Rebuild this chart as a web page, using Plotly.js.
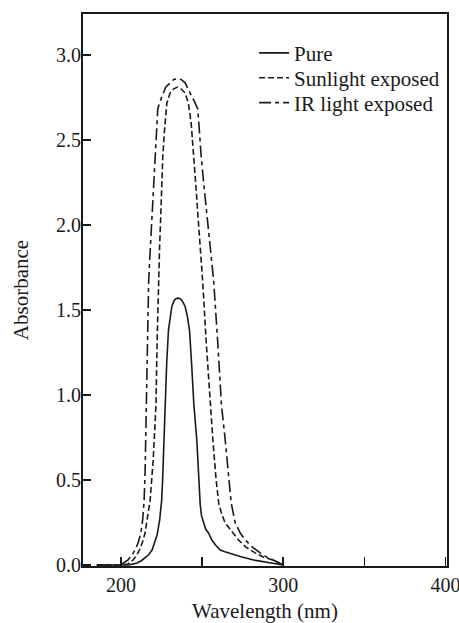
<!DOCTYPE html>
<html>
<head>
<meta charset="utf-8">
<script src="https://cdn.plot.ly/plotly-3.0.1.min.js"></script>
<style>html,body{margin:0;padding:0;background:#fff;}#chart{width:459px;height:623px;}</style>
</head>
<body>
<div id="chart"></div>
<script>
// Pure (solid)
const pureWl = [185, 204.3, 207, 209.9, 212.5, 214.8, 217, 219.1, 220.8, 222.2, 223.8, 225.0, 225.6, 226.2, 227.2, 228.1, 229.2, 230.2, 231.3, 232.7, 234, 235.0, 236.2, 237.6, 239.5, 240.9, 242.2, 243.5, 244.9, 246.7, 247.8, 248.8, 249.6, 250.8, 252.2, 253.9, 256.0, 258.5, 261.1, 264, 267.3, 274, 281.7, 292.0, 300];
const pureAbs = [0, 0, 0.005, 0.012, 0.025, 0.041, 0.06, 0.088, 0.13, 0.176, 0.265, 0.38, 0.5, 0.68, 0.94, 1.18, 1.38, 1.46, 1.52, 1.555, 1.567, 1.569, 1.567, 1.555, 1.52, 1.46, 1.38, 1.18, 0.94, 0.735, 0.50, 0.353, 0.29, 0.247, 0.21, 0.188, 0.147, 0.115, 0.088, 0.078, 0.068, 0.048, 0.029, 0.012, 0];

// Sunlight exposed (short dash)
const sunWl = [185, 199.4, 204.3, 207.4, 209.5, 211.3, 213.2, 214.8, 216.0, 217.9, 219.8, 221.5, 222.2, 223.0, 223.7, 224.4, 225.1, 225.7, 226.8, 228.2, 230.2, 232.5, 234.8, 237, 239.5, 241.5, 243.2, 245, 246.2, 247.5, 248.9, 250.3, 252.5, 254.9, 256.6, 258.6, 260.2, 262, 264.2, 269.1, 272.4, 277, 282.7, 288, 293.8, 300];
const sunAbs = [0, 0, 0.006, 0.03, 0.055, 0.088, 0.135, 0.188, 0.265, 0.38, 0.62, 0.94, 1.31, 1.67, 1.86, 2.04, 2.22, 2.40, 2.56, 2.715, 2.775, 2.80, 2.81, 2.80, 2.775, 2.715, 2.60, 2.40, 2.22, 2.04, 1.86, 1.67, 1.31, 0.94, 0.735, 0.50, 0.365, 0.30, 0.247, 0.188, 0.147, 0.105, 0.071, 0.045, 0.029, 0];

// IR light exposed (long dash-dot)
const irWl = [185, 196.3, 200.6, 204.3, 206.5, 208.6, 210.5, 212.2, 213.3, 214.2, 214.8, 215.3, 215.8, 216.4, 217.0, 218.0, 219.1, 220.1, 221.0, 221.8, 222.6, 223.8, 225.1, 227.5, 230.2, 232.5, 234.6, 237, 239.5, 241.5, 243.6, 245.5, 247.3, 248.3, 249.4, 251.2, 253.1, 255.1, 257.1, 259.6, 261.9, 264.2, 266.0, 267.9, 270.4, 273.5, 276.5, 281, 285.8, 290, 293.8, 300];
const irAbs = [0, 0, 0.006, 0.03, 0.055, 0.088, 0.13, 0.188, 0.265, 0.38, 0.55, 0.8, 1.1, 1.4, 1.67, 1.86, 2.04, 2.22, 2.40, 2.55, 2.68, 2.72, 2.755, 2.81, 2.835, 2.855, 2.86, 2.855, 2.835, 2.80, 2.755, 2.72, 2.68, 2.55, 2.40, 2.22, 2.04, 1.86, 1.67, 1.31, 0.94, 0.735, 0.53, 0.365, 0.247, 0.188, 0.147, 0.105, 0.071, 0.045, 0.029, 0];

const seriesNames = ['Pure', 'Sunlight exposed', 'IR light exposed'];
const xTickVals = [200, 250, 300, 350, 400];
const xTickText = ['200', '', '300', '', '400'];
const yTickVals = [0, 0.5, 1.0, 1.5, 2.0, 2.5, 3.0];

const FONT = 'Liberation Serif, Times New Roman, serif';
const INK = '#1a1a1a';

const traces = [
  {x: pureWl, y: pureAbs, name: seriesNames[0], mode: 'lines', legend: 'legend',
   line: {color: INK, width: 1.6, dash: 'solid', shape: 'linear'}},
  {x: sunWl, y: sunAbs, name: seriesNames[1], mode: 'lines', legend: 'legend2',
   line: {color: INK, width: 1.6, dash: '6px,3px', shape: 'linear'}},
  {x: irWl, y: irAbs, name: seriesNames[2], mode: 'lines', legend: 'legend3',
   line: {color: INK, width: 1.6, dash: '12px,4px,4px,4px', shape: 'linear'}}
];

function legendAt(yTop) {
  return {x: 0.47, y: yTop, xanchor: 'left', yanchor: 'top',
          bgcolor: 'rgba(0,0,0,0)', font: {family: FONT, size: 21, color: INK},
          itemwidth: 30};
}

const layout = {
  width: 459, height: 623,
  margin: {l: 83, r: 12, t: 14, b: 57},
  paper_bgcolor: '#ffffff', plot_bgcolor: '#ffffff',
  font: {family: FONT, size: 20, color: INK},
  showlegend: true,
  legend: legendAt(0.966),
  legend2: legendAt(0.921),
  legend3: legendAt(0.876),
  xaxis: {
    range: [176.5, 401], tickmode: 'array', tickvals: xTickVals, ticktext: xTickText,
    ticks: 'inside', ticklen: 9, tickwidth: 1.5, tickcolor: INK,
    showline: true, linecolor: INK, linewidth: 2, mirror: true,
    showgrid: false, zeroline: false, ticklabeloverflow: 'allow',
    tickfont: {family: FONT, size: 20, color: INK},
    title: {text: 'Wavelength (nm)', font: {family: FONT, size: 21, color: INK}, standoff: 8}
  },
  yaxis: {
    range: [-0.006, 3.24], tickmode: 'array', tickvals: yTickVals, tickformat: '.1f',
    ticks: 'inside', ticklen: 8, tickwidth: 1.5, tickcolor: INK,
    showline: true, linecolor: INK, linewidth: 2, mirror: true,
    showgrid: false, zeroline: false, ticklabelstandoff: -4,
    tickfont: {family: FONT, size: 20, color: INK},
    title: {text: 'Absorbance', font: {family: FONT, size: 21, color: INK}, standoff: 22}
  }
};

Plotly.newPlot('chart', traces, layout, {staticPlot: true, displayModeBar: false});
</script>
</body>
</html>
